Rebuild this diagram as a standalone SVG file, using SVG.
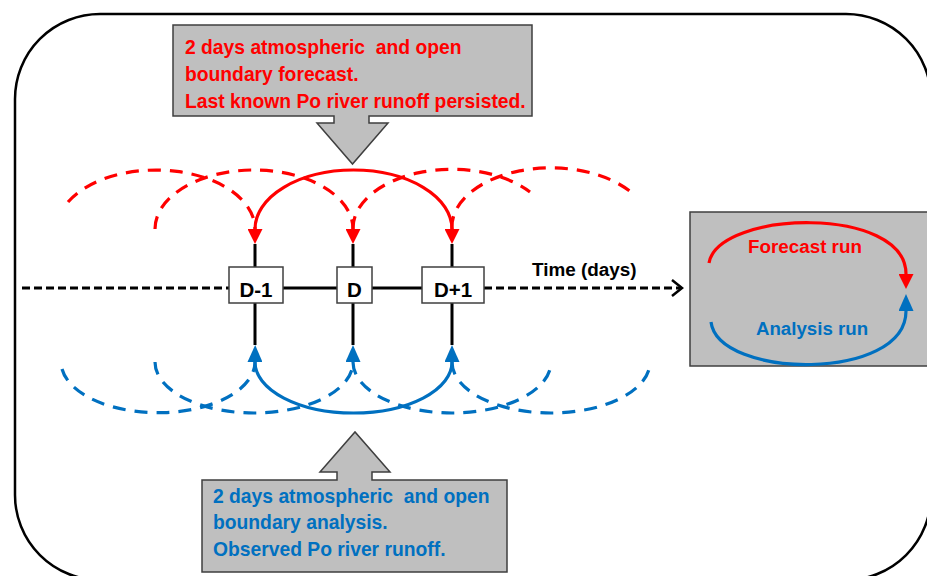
<svg xmlns="http://www.w3.org/2000/svg" width="927" height="576" viewBox="0 0 927 576">
<style>
.callout{fill:#bfbfbf;stroke:#3f3f3f;stroke-width:1.5}
.node{fill:#ffffff;stroke:#3f3f3f;stroke-width:1.5}
.txt{font-family:"Liberation Sans",Arial,sans-serif;font-weight:bold;white-space:pre}
.red{fill:#ff0000}
.blue{fill:#0070c0}
.blk{fill:#000000}
.rarc{fill:none;stroke:#ff0000;stroke-width:3.2}
.barc{fill:none;stroke:#0070c0;stroke-width:3.2}
.dash{stroke-dasharray:13 9}
.axis{fill:none;stroke:#000000;stroke-width:3}
</style>
<defs>
<marker id="ahRed" markerUnits="userSpaceOnUse" viewBox="0 0 15 15" markerWidth="15" markerHeight="15" refX="0" refY="7.5" orient="auto"><path d="M0,0 L15,7.5 L0,15 z" fill="#ff0000"/></marker>
<marker id="ahBlue" markerUnits="userSpaceOnUse" viewBox="0 0 17 15" markerWidth="17" markerHeight="15" refX="0" refY="7.5" orient="auto"><path d="M0,0 L17,7.5 L0,15 z" fill="#0070c0"/></marker>
</defs>
<rect width="927" height="576" fill="#ffffff"/>
<g id="frame"><rect x="15" y="14" width="916" height="566" rx="85" ry="85" fill="none" stroke="#000000" stroke-width="2.5"/></g>

<g id="connectors">
<!-- time axis -->
<path class="axis" d="M22,288 H229" stroke-dasharray="8 4"/>
<path class="axis" d="M283,288 H337 M372,288 H422"/>
<path class="axis" d="M484,288 H680" stroke-dasharray="8 4"/>
<polyline points="672,280 682,288 672,296" fill="none" stroke="#000000" stroke-width="2.5"/>
<!-- vertical stems -->
<path class="axis" d="M255,244 V267 M353,244 V267 M452,244 V267 M255,303 V345 M353,303 V345 M452,303 V345"/>
<!-- red forecast arcs -->
<path class="rarc dash" d="M68,202 A99 59 0 0 1 255,229" marker-end="url(#ahRed)"/>
<path class="rarc dash" d="M155,229 A99 59 0 0 1 353,229" marker-end="url(#ahRed)"/>
<path class="rarc" d="M255,229 A98.5 59 0 0 1 452,229" marker-end="url(#ahRed)"/>
<path class="rarc dash" d="M353,229 A99 59 0 0 1 530,192"/>
<path class="rarc dash" d="M452,229 A99 59 0 0 1 632,193"/>
<!-- blue analysis arcs -->
<path class="barc dash" d="M62,369 A97 51 0 0 0 255,362" marker-end="url(#ahBlue)"/>
<path class="barc dash" d="M155,362 A99 51 0 0 0 353,362" marker-end="url(#ahBlue)"/>
<path class="barc" d="M255,362 A98.5 51 0 0 0 452,362" marker-end="url(#ahBlue)"/>
<path class="barc dash" d="M353,362 A99 51 0 0 0 551,362"/>
<path class="barc dash" d="M452,362 A99 51 0 0 0 650,362"/>
</g>

<g id="forecast-callout">
<path class="callout" d="M173,25 H532 V116 H369 V123 H388 L352.5,164 L317,123 H334 V116 H173 Z"/>
<text class="txt red" font-size="19.3" xml:space="preserve"><tspan x="185" y="54">2 days atmospheric  and open</tspan><tspan x="185" y="81">boundary forecast.</tspan><tspan x="185" y="108">Last known Po river runoff persisted.</tspan></text>
</g>

<g id="analysis-callout">
<path class="callout" d="M202,480 H337 V472 H320 L355,432 L390,472 H372 V480 H507 V572 H202 Z"/>
<text class="txt blue" font-size="19.3" xml:space="preserve"><tspan x="213" y="503">2 days atmospheric  and open</tspan><tspan x="213" y="529">boundary analysis.</tspan><tspan x="213" y="556">Observed Po river runoff.</tspan></text>
</g>

<g id="node-d-minus-1">
<rect class="node" x="229" y="267" width="54" height="36"/>
<text class="txt blk" x="256" y="297" font-size="20.5" text-anchor="middle">D-1</text>
</g>
<g id="node-d">
<rect class="node" x="337" y="267" width="35" height="36"/>
<text class="txt blk" x="354.5" y="297" font-size="20.5" text-anchor="middle">D</text>
</g>
<g id="node-d-plus-1">
<rect class="node" x="422" y="267" width="62" height="36"/>
<text class="txt blk" x="453" y="297" font-size="20.5" text-anchor="middle">D+1</text>
</g>

<g id="time-label">
<text class="txt blk" x="532" y="276" font-size="18.9">Time (days)</text>
</g>

<g id="legend">
<rect class="callout" x="690" y="212" width="245" height="154"/>
<path class="rarc" d="M709,263 C718,210 906,205 906,274" marker-end="url(#ahRed)"/>
<path class="barc" d="M711,322 C718,379 906,382 906,311" marker-end="url(#ahBlue)"/>
<text class="txt red" x="805" y="253" font-size="18.8" text-anchor="middle">Forecast run</text>
<text class="txt blue" x="812" y="335" font-size="18.7" text-anchor="middle">Analysis run</text>
</g>
</svg>
